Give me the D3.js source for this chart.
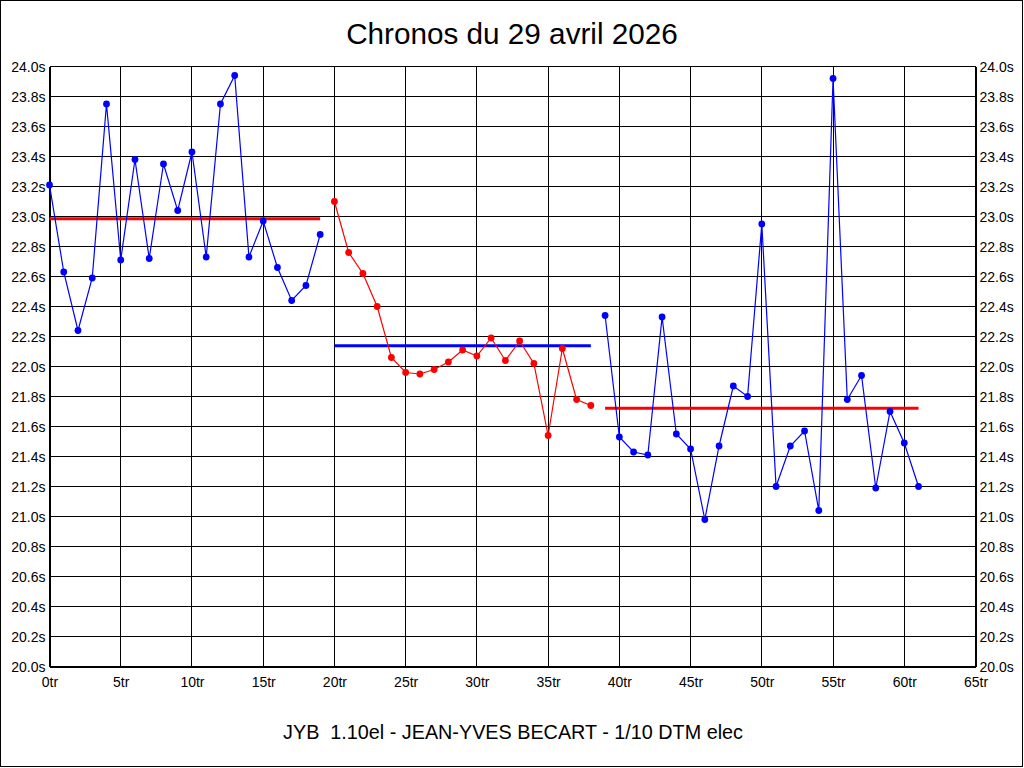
<!DOCTYPE html>
<html>
<head>
<meta charset="utf-8">
<script src="https://cdn.jsdelivr.net/npm/d3@7"></script>
<style>
  html, body { margin: 0; padding: 0; background: #fff; }
  svg { display: block; }
  text { font-family: "Liberation Sans", Arial, sans-serif; fill: #000; }
</style>
</head>
<body>
<svg id="chart" width="1024" height="768"></svg>
<script>
// ---- data ----
const titleText = "Chronos du 29 avril 2026";
const footerText = "JYB  1.10el - JEAN-YVES BECART - 1/10 DTM elec";

const lapTimes = [
  23.21, 22.63, 22.24, 22.59, 23.75, 22.71, 23.38, 22.72, 23.35, 23.04,
  23.43, 22.73, 23.75, 23.94, 22.73, 22.97, 22.66, 22.44, 22.54, 22.88,
  23.10, 22.76, 22.62, 22.40, 22.06, 21.96, 21.95, 21.98, 22.03, 22.11,
  22.07, 22.19, 22.04, 22.17, 22.02, 21.54, 22.12, 21.78, 21.74,
  22.34, 21.53, 21.43, 21.41, 22.33, 21.55, 21.45, 20.98, 21.47, 21.87,
  21.80, 22.95, 21.20, 21.47, 21.57, 21.04, 23.92, 21.78, 21.94, 21.19,
  21.70, 21.49, 21.20
];
const segmentStarts = [0, 20, 39];
const segmentEnds = [19, 38, 61];
const seriesColors = ["#0000ff", "#ff0000", "#0000ff"];
const meanColors = ["#ff0000", "#0000ff", "#ff0000"];

const xTicks = d3.range(0, 66, 5);
const yTicks = d3.range(0, 21).map(i => +(20 + i * 0.2).toFixed(1));

// ---- layout ----
const W = 1024, H = 768;
const pLeft = 49.5, pRight = 975.5, pTop = 66.5, pBottom = 666.5;

const svg = d3.select("#chart");
svg.append("rect").attr("x", 0.5).attr("y", 0.5).attr("width", W - 2).attr("height", H - 2)
  .attr("fill", "#fff").attr("stroke", "#000").attr("stroke-width", 1);

const x = d3.scaleLinear().domain([0, 65]).range([pLeft, pRight]);
const y = d3.scaleLinear().domain([20, 24]).range([pBottom, pTop]);

// title & footer
svg.append("text").attr("x", 512).attr("y", 44).attr("text-anchor", "middle")
  .style("font-size", "29.7px").text(titleText);
svg.append("text").attr("x", 513).attr("y", 739).attr("text-anchor", "middle")
  .style("font-size", "19.8px").style("white-space", "pre").attr("xml:space", "preserve")
  .text(footerText);

// grid
const grid = svg.append("g").attr("shape-rendering", "crispEdges");
grid.selectAll("line.h").data(yTicks).join("line").attr("class", "h")
  .attr("x1", pLeft).attr("x2", pRight).attr("y1", d => y(d)).attr("y2", d => y(d))
  .attr("stroke", "#000").attr("stroke-width", 1);
grid.selectAll("line.v").data(xTicks).join("line").attr("class", "v")
  .attr("y1", pTop).attr("y2", pBottom)
  .attr("x1", d => Math.round(x(d) - 0.5) + 0.5).attr("x2", d => Math.round(x(d) - 0.5) + 0.5)
  .attr("stroke", "#000").attr("stroke-width", 1);

// axes (labels)
const fmtY = d => d.toFixed(1) + "s";
const fmtX = d => d + "tr";
const gl = svg.append("g").attr("transform", `translate(${pLeft},0)`)
  .call(d3.axisLeft(y).tickValues(yTicks).tickFormat(fmtY).tickSize(0).tickPadding(4));
const gr = svg.append("g").attr("transform", `translate(${pRight},0)`)
  .call(d3.axisRight(y).tickValues(yTicks).tickFormat(fmtY).tickSize(0).tickPadding(4));
const gb = svg.append("g").attr("transform", `translate(0,${pBottom})`)
  .call(d3.axisBottom(x).tickValues(xTicks).tickFormat(fmtX).tickSize(0).tickPadding(11));
[gl, gr, gb].forEach(g => {
  g.select(".domain").attr("stroke", "#000").attr("shape-rendering", "crispEdges");
  g.selectAll("text").style("font-size", "14px").style("font-family", "'Liberation Sans', Arial, sans-serif").attr("fill", "#000");
});
gl.selectAll("text").attr("dy", "0.36em");
gr.selectAll("text").attr("dy", "0.36em");

// mean lines
segmentStarts.forEach((s, i) => {
  const e = segmentEnds[i];
  const vals = lapTimes.slice(s, e + 1);
  const m = d3.mean(vals);
  svg.append("line").attr("x1", x(s)).attr("x2", x(e)).attr("y1", y(m)).attr("y2", y(m))
    .attr("stroke", meanColors[i]).attr("stroke-width", 3);
});

// series
const line = d3.line().x(d => x(d.i)).y(d => y(d.v));
segmentStarts.forEach((s, i) => {
  const e = segmentEnds[i];
  const pts = d3.range(s, e + 1).map(k => ({ i: k, v: lapTimes[k] }));
  const g = svg.append("g");
  g.append("path").datum(pts).attr("d", line).attr("fill", "none")
    .attr("stroke", seriesColors[i]).attr("stroke-width", 1.2);
  g.selectAll("circle").data(pts).join("circle")
    .attr("cx", d => x(d.i)).attr("cy", d => y(d.v)).attr("r", 3.4)
    .attr("fill", seriesColors[i]);
});
</script>
</body>
</html>
